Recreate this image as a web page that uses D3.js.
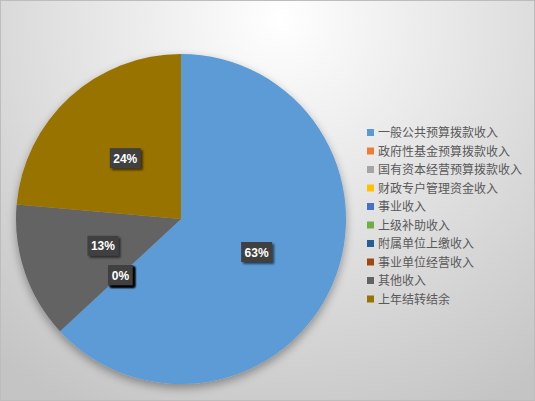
<!DOCTYPE html>
<html>
<head>
<meta charset="utf-8">
<script src="https://d3js.org/d3.v7.min.js"></script>
<style>
  body { margin: 0; }
  svg { display: block; }
</style>
</head>
<body>
<svg id="chart" width="535" height="401"></svg>
<script>
// categories and shares (percent)
var categories = ["一般公共预算拨款收入", "政府性基金预算拨款收入", "国有资本经营预算拨款收入",
  "财政专户管理资金收入", "事业收入", "上级补助收入", "附属单位上缴收入",
  "事业单位经营收入", "其他收入", "上年结转结余"];
var values = [63.1, 0, 0, 0, 0, 0, 0, 0, 13.3, 23.6];
var colors = ["#5B9BD5", "#ED7D31", "#A5A5A5", "#FFC000", "#4472C4",
  "#70AD47", "#255E91", "#9E480E", "#636363", "#997300"];

var svg = d3.select("#chart");
var W = 535, H = 401;
var cx = 181, cy = 219, r = 165;

var defs = svg.append("defs");
var bg = defs.append("radialGradient").attr("id", "bg")
  .attr("gradientUnits", "userSpaceOnUse")
  .attr("cx", 280).attr("cy", 20).attr("r", 440);
bg.append("stop").attr("offset", "0").attr("stop-color", "#ffffff");
bg.append("stop").attr("offset", "1").attr("stop-color", "#c4c4c4");

var sh = defs.append("filter").attr("id", "pieShadow")
  .attr("x", "-20%").attr("y", "-20%").attr("width", "140%").attr("height", "140%");
sh.append("feGaussianBlur").attr("in", "SourceAlpha").attr("stdDeviation", 5).attr("result", "b");
sh.append("feOffset").attr("in", "b").attr("dx", 0).attr("dy", 4).attr("result", "o");
sh.append("feComponentTransfer").attr("in", "o").attr("result", "s")
  .append("feFuncA").attr("type", "linear").attr("slope", 0.35);
var m = sh.append("feMerge");
m.append("feMergeNode").attr("in", "s");
m.append("feMergeNode").attr("in", "SourceGraphic");

var lsh = defs.append("filter").attr("id", "lblShadow")
  .attr("x", "-30%").attr("y", "-30%").attr("width", "170%").attr("height", "170%");
lsh.append("feGaussianBlur").attr("in", "SourceAlpha").attr("stdDeviation", 1).attr("result", "b");
lsh.append("feOffset").attr("in", "b").attr("dx", 2).attr("dy", 2).attr("result", "o");
lsh.append("feComponentTransfer").attr("in", "o").attr("result", "s")
  .append("feFuncA").attr("type", "linear").attr("slope", 0.6);
var m2 = lsh.append("feMerge");
m2.append("feMergeNode").attr("in", "s");
m2.append("feMergeNode").attr("in", "SourceGraphic");

// background + frame
svg.append("rect").attr("x", 0.5).attr("y", 0.5).attr("width", W - 1).attr("height", H - 1)
  .attr("fill", "url(#bg)").attr("stroke", "#bdbdbd");

var data = categories.map(function(c, i) { return { name: c, value: values[i], color: colors[i] }; });

var pie = d3.pie().sort(null).value(function(d) { return d.value; });
var arcs = pie(data);
var arc = d3.arc().innerRadius(0).outerRadius(r);
var labelArc = d3.arc().innerRadius(r * 0.5).outerRadius(r * 0.5);

var g = svg.append("g").attr("transform", "translate(" + cx + "," + cy + ")");
g.append("g").attr("filter", "url(#pieShadow)")
  .selectAll("path").data(arcs).enter().append("path")
  .attr("d", arc)
  .attr("fill", function(d) { return d.data.color; })
  .attr("stroke", "none");

// data labels (zero slices stack on the same spot)
var lbl = g.selectAll("g.lbl").data(arcs).enter().append("g")
  .attr("class", "lbl")
  .attr("transform", function(d) { var p = labelArc.centroid(d); return "translate(" + p[0] + "," + p[1] + ")"; });
lbl.each(function(d) {
  var t = Math.round(d.data.value) + "%";
  var w = t.length > 2 ? 31 : 24;
  var s = d3.select(this);
  s.append("rect").attr("x", -w / 2).attr("y", -10).attr("width", w).attr("height", 20)
    .attr("fill", "#404040").attr("filter", "url(#lblShadow)");
  s.append("text").attr("x", 0).attr("y", 4.5).attr("text-anchor", "middle")
    .attr("fill", "#ffffff").style("font-family", "Arial, 'Liberation Sans', sans-serif")
    .style("font-weight", "bold").style("font-size", "12px").text(t);
});

// legend
var legend = svg.append("g").attr("transform", "translate(366,132.5)");
var item = legend.selectAll("g").data(data).enter().append("g")
  .attr("transform", function(d, i) { return "translate(0," + (i * 18.5) + ")"; });
item.append("rect").attr("x", 1).attr("y", -3.5).attr("width", 7).attr("height", 7)
  .attr("fill", function(d) { return d.color; });
item.append("text").attr("x", 12).attr("y", 4.5)
  .attr("fill", "#595959")
  .style("font-family", "'Noto Sans CJK SC', sans-serif").style("font-size", "12px")
  .text(function(d) { return d.name; });
</script>
</body>
</html>
